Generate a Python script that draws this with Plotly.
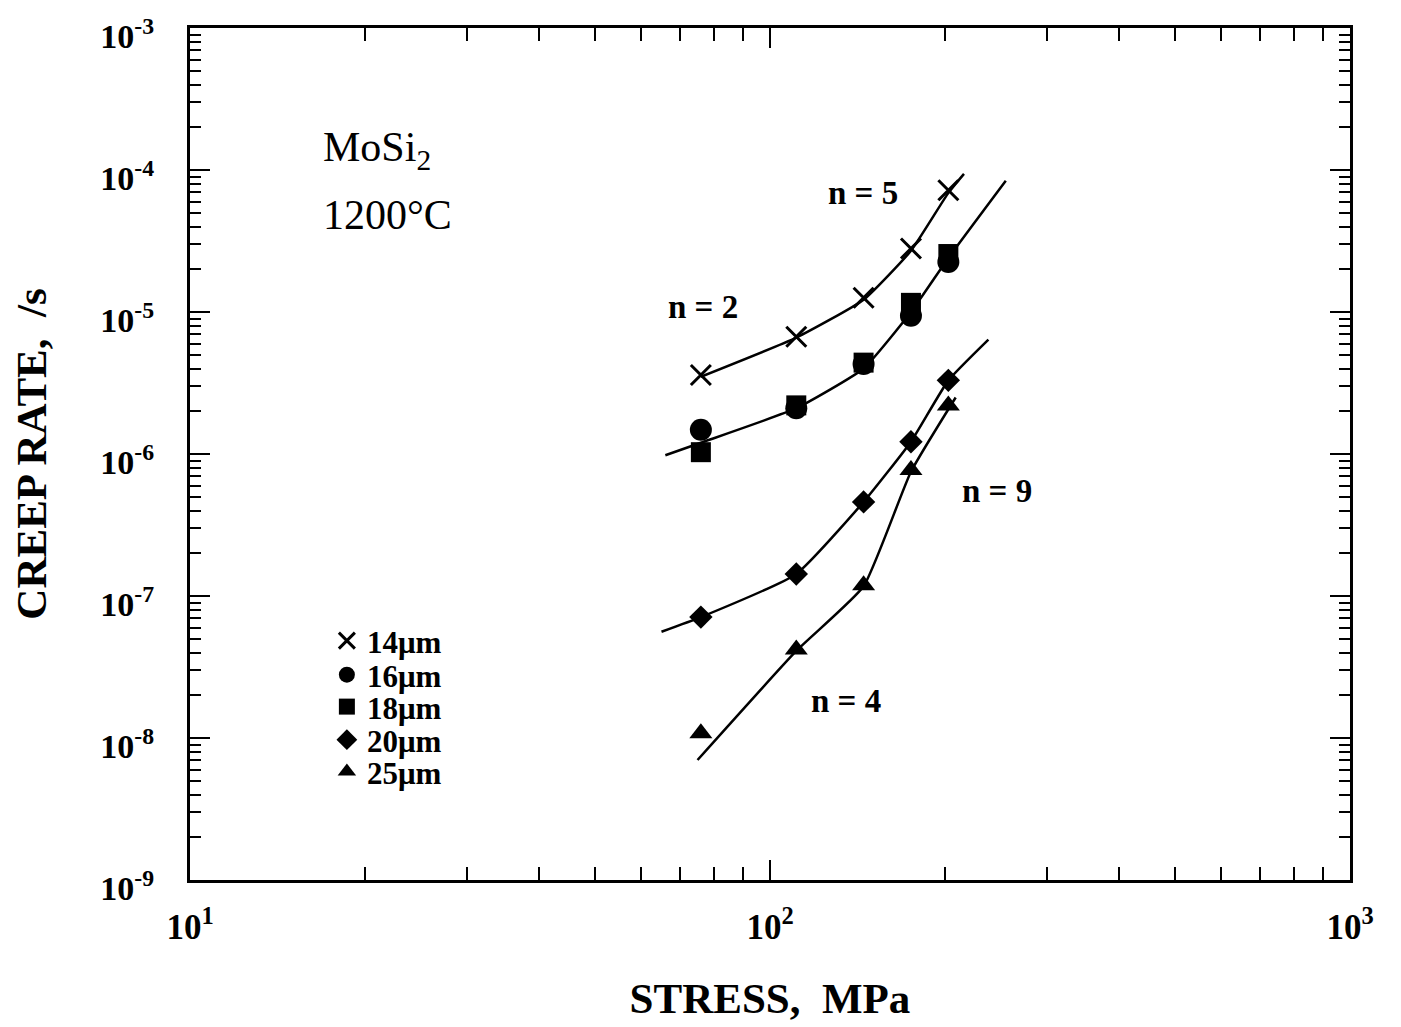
import plotly.graph_objects as go

# ---- data ----
stress = [76, 111, 145, 175, 203]                     # MPa
rate_14 = [3.6e-6, 6.7e-6, 1.26e-5, 2.8e-5, 7.2e-5]   # /s
rate_16 = [1.48e-6, 2.1e-6, 4.3e-6, 9.4e-6, 2.25e-5]
rate_18 = [1.03e-6, 2.2e-6, 4.4e-6, 1.16e-5, 2.56e-5]
rate_20 = [7.1e-8, 1.43e-7, 4.6e-7, 1.22e-6, 3.3e-6]
rate_25 = [1.08e-8, 4.2e-8, 1.19e-7, 7.7e-7, 2.2e-6]

# fitted curves (as drawn)
fit_a_x = [76, 111, 145, 175, 203, 216]
fit_a_y = [3.5e-6, 6.6e-6, 1.22e-5, 2.7e-5, 6.9e-5, 9.4e-5]
fit_b_x = [66, 76, 111, 145, 175, 203, 255]
fit_b_y = [9.8e-7, 1.2e-6, 2.1e-6, 4.0e-6, 1.0e-5, 2.4e-5, 8.4e-5]
fit_c_x = [65, 76, 111, 145, 175, 203, 238]
fit_c_y = [5.6e-8, 7.1e-8, 1.43e-7, 4.6e-7, 1.22e-6, 3.3e-6, 6.4e-6]
fit_d_x = [75, 111, 145, 175, 209]
fit_d_y = [7.0e-9, 4.1e-8, 1.17e-7, 7.5e-7, 2.5e-6]

legend_labels = ["14μm", "16μm", "18μm", "20μm", "25μm"]

x_major = [10, 100, 1000]
x_major_text = ["<b>10<sup>1</sup></b>", "<b>10<sup>2</sup></b>", "<b>10<sup>3</sup></b>"]
y_major = [1e-9, 1e-8, 1e-7, 1e-6, 1e-5, 1e-4, 1e-3]
y_major_text = ["<b>10<sup>-%d</sup></b>" % k for k in (9, 8, 7, 6, 5, 4, 3)]

FONT = "Liberation Serif"
NB = "\u00a0"

fig = go.Figure()

for fx, fy in [(fit_a_x, fit_a_y), (fit_b_x, fit_b_y), (fit_c_x, fit_c_y), (fit_d_x, fit_d_y)]:
    fig.add_trace(go.Scatter(x=fx, y=fy, mode="lines",
                             line=dict(color="black", width=2.5, shape="spline", smoothing=0.45),
                             showlegend=False, hoverinfo="skip"))

series = [
    (rate_14, "x-thin", 20),
    (rate_16, "circle", 22),
    (rate_18, "square", 20),
    (rate_20, "diamond", 18),
    (rate_25, "triangle-up", 20),
]
legend_y = [0.2805, 0.2406, 0.2031, 0.1643, 0.1268]
legend_layouts = {}
for i, ((ys, sym, sz), name) in enumerate(zip(series, legend_labels)):
    mk = dict(symbol=sym, size=sz, color="black")
    if sym == "x-thin":
        mk["line"] = dict(color="black", width=3)
    lg = "legend" if i == 0 else "legend%d" % (i + 1)
    fig.add_trace(go.Scatter(x=stress, y=ys, mode="markers", marker=mk,
                             name="<b>%s</b>" % name, legend=lg))
    legend_layouts[lg] = dict(x=0.118, y=legend_y[i], xanchor="left", yanchor="middle",
                              bgcolor="rgba(0,0,0,0)", borderwidth=0, itemwidth=30,
                              font=dict(family=FONT, size=31, color="black"))

annos = [
    dict(x=0.113, y=0.857, text="MoSi<sub>2</sub>", size=42, bold=False),
    dict(x=0.113, y=0.781, text="1200°C", size=42, bold=False),
    dict(x=0.548, y=0.806, text="n = 5", size=33, bold=True),
    dict(x=0.410, y=0.672, text="n = 2", size=33, bold=True),
    dict(x=0.664, y=0.456, text="n = 9", size=33, bold=True),
    dict(x=0.534, y=0.210, text="n = 4", size=33, bold=True),
]
for a in annos:
    t = "<b>%s</b>" % a["text"] if a["bold"] else a["text"]
    fig.add_annotation(x=a["x"], y=a["y"], xref="paper", yref="paper", text=t, showarrow=False,
                       xanchor="left", yanchor="middle",
                       font=dict(family=FONT, size=a["size"], color="black"))

fig.update_xaxes(type="log", range=[1, 3], tickvals=x_major, ticktext=x_major_text,
                 ticks="inside", ticklen=20, tickwidth=2, tickcolor="black",
                 minor=dict(ticks="inside", ticklen=13, tickwidth=2, tickcolor="black", dtick="D1"),
                 showline=True, linewidth=3, linecolor="black", mirror="ticks",
                 showgrid=False, zeroline=False, automargin=False, ticklabelstandoff=14,
                 ticklabeloverflow="allow",
                 tickfont=dict(family=FONT, size=35, color="black"),
                 title=dict(text="<b>STRESS,%s%sMPa</b>" % (NB, NB),
                            font=dict(family=FONT, size=43, color="black"), standoff=37))
fig.update_yaxes(type="log", range=[-9, -3], tickvals=y_major, ticktext=y_major_text,
                 ticks="inside", ticklen=20, tickwidth=2, tickcolor="black",
                 minor=dict(ticks="inside", ticklen=11, tickwidth=2, tickcolor="black", dtick="D1"),
                 showline=True, linewidth=3, linecolor="black", mirror="ticks",
                 showgrid=False, zeroline=False, automargin=False, ticklabelstandoff=26,
                 ticklabeloverflow="allow", ticklabelshift=8,
                 tickfont=dict(family=FONT, size=34, color="black"),
                 title=dict(text="<b>CREEP RATE,%s%s/s</b>" % (NB, NB),
                            font=dict(family=FONT, size=43, color="black"), standoff=45))

fig.update_layout(
    width=1393, height=1019,
    margin=dict(l=182, r=51, t=20, b=147),
    paper_bgcolor="white", plot_bgcolor="white",
    showlegend=True,
    **legend_layouts,
)

fig.write_html("out.html")
